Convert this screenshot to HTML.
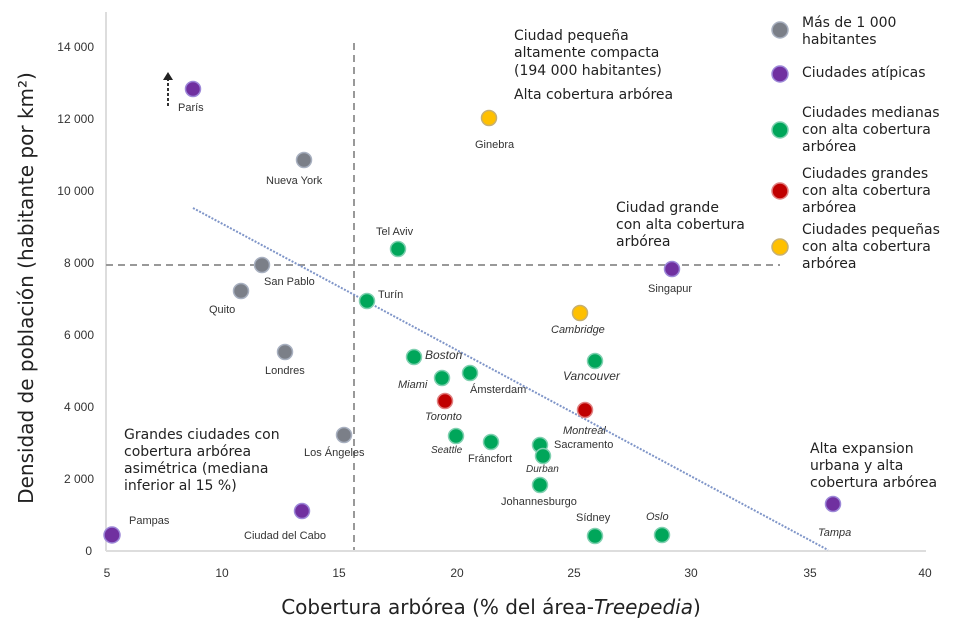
<!DOCTYPE html>
<html><head><meta charset="utf-8"><style>
body{margin:0;background:#fff}
svg{display:block}
.a{font-family:"DejaVu Sans",sans-serif;font-size:14px;fill:#222}
.l{font-family:"Liberation Sans",sans-serif;font-size:11px;fill:#333}
.i{font-style:italic}
.t{font-family:"Liberation Sans",sans-serif;font-size:12px;fill:#333}
</style></head><body>
<svg width="972" height="629" viewBox="0 0 972 629" xmlns="http://www.w3.org/2000/svg">
<line x1="106" y1="12" x2="106" y2="551" stroke="#ddd" stroke-width="2"/>
<line x1="106" y1="551" x2="926" y2="551" stroke="#ddd" stroke-width="2"/>
<g class="t" text-anchor="end">
<text x="94" y="51">14 000</text><text x="94" y="123">12 000</text><text x="94" y="195">10 000</text>
<text x="94" y="267">8 000</text><text x="94" y="339">6 000</text><text x="94" y="411">4 000</text>
<text x="94" y="483">2 000</text><text x="92" y="555">0</text></g>
<g class="t" text-anchor="middle">
<text x="107" y="577">5</text><text x="222" y="577">10</text><text x="339" y="577">15</text><text x="457" y="577">20</text>
<text x="574" y="577">25</text><text x="691" y="577">30</text><text x="810" y="577">35</text><text x="925" y="577">40</text></g>
<text x="491" y="614" text-anchor="middle" font-family="DejaVu Sans,sans-serif" font-size="20" fill="#222">Cobertura arbórea (% del área-<tspan font-style="italic">Treepedia</tspan>)</text>
<text transform="translate(33,288) rotate(-90)" text-anchor="middle" font-family="DejaVu Sans,sans-serif" font-size="20" fill="#222">Densidad de población (habitante por km²)</text>
<line x1="106" y1="265" x2="780" y2="265" stroke="#999" stroke-width="2" stroke-dasharray="7,5"/>
<line x1="354" y1="43" x2="354" y2="550" stroke="#999" stroke-width="2" stroke-dasharray="7,5"/>
<line x1="193" y1="208" x2="828" y2="550" stroke="#7f95c8" stroke-width="2" stroke-dasharray="2,1.5"/>
<line x1="168" y1="106" x2="168" y2="80" stroke="#333" stroke-width="2" stroke-dasharray="3,2"/>
<polygon points="163,80 173,80 168,72" fill="#222"/>
<g stroke-width="1.5">
<g fill="#7b7f88" stroke="#a8b0c0">
<circle cx="304" cy="160" r="7.5"/><circle cx="262" cy="265" r="7.5"/><circle cx="241" cy="291" r="7.5"/>
<circle cx="285" cy="352" r="7.5"/><circle cx="344" cy="435" r="7.5"/><circle cx="780" cy="30" r="8"/></g>
<g fill="#7030a0" stroke="#9d88d8">
<circle cx="193" cy="89" r="7.5"/><circle cx="672" cy="269" r="7.5"/><circle cx="302" cy="511" r="7.5"/>
<circle cx="112" cy="535" r="8"/><circle cx="833" cy="504" r="7.5"/><circle cx="780" cy="74" r="8"/></g>
<g fill="#00a65a" stroke="#7fd0b0">
<circle cx="398" cy="249" r="7.5"/><circle cx="367" cy="301" r="7.5"/><circle cx="414" cy="357" r="7.5"/>
<circle cx="595" cy="361" r="7.5"/><circle cx="442" cy="378" r="7.5"/><circle cx="470" cy="373" r="7.5"/>
<circle cx="456" cy="436" r="7.5"/><circle cx="491" cy="442" r="7.5"/><circle cx="540" cy="445" r="7.5"/>
<circle cx="543" cy="456" r="7.5"/><circle cx="540" cy="485" r="7.5"/><circle cx="595" cy="536" r="7.5"/>
<circle cx="662" cy="535" r="7.5"/><circle cx="780" cy="130" r="8"/></g>
<g fill="#c00000" stroke="#e08080">
<circle cx="445" cy="401" r="7.5"/><circle cx="585" cy="410" r="7.5"/><circle cx="780" cy="191" r="8"/></g>
<g fill="#ffc000" stroke="#c8b070">
<circle cx="489" cy="118" r="7.5"/><circle cx="580" cy="313" r="7.5"/><circle cx="780" cy="247" r="8"/></g>
</g>
<g class="l">
<text x="178" y="111">París</text><text x="475" y="148">Ginebra</text><text x="266" y="184">Nueva York</text>
<text x="376" y="235">Tel Aviv</text><text x="264" y="285">San Pablo</text><text x="209" y="313">Quito</text>
<text x="378" y="298">Turín</text><text x="648" y="292">Singapur</text><text x="551" y="333" class="i">Cambridge</text>
<text x="265" y="374">Londres</text><text x="425" y="359" class="i" font-size="12">Boston</text><text x="563" y="380" class="i" font-size="12">Vancouver</text>
<text x="398" y="388" class="i">Miami</text><text x="470" y="393">Ámsterdam</text><text x="425" y="420" class="i">Toronto</text>
<text x="563" y="434" class="i">Montreal</text><text x="554" y="448">Sacramento</text><text x="526" y="472" class="i" font-size="10">Durban</text>
<text x="304" y="456">Los Ángeles</text><text x="431" y="453" class="i" font-size="10">Seattle</text><text x="468" y="462">Fráncfort</text>
<text x="501" y="505">Johannesburgo</text><text x="576" y="521">Sídney</text><text x="646" y="520" class="i">Oslo</text>
<text x="818" y="536" class="i">Tampa</text><text x="129" y="524">Pampas</text><text x="244" y="539">Ciudad del Cabo</text>
</g>
<g class="a">
<text x="514" y="40">Ciudad pequeña</text><text x="514" y="57">altamente compacta</text><text x="514" y="75">(194 000 habitantes)</text>
<text x="514" y="99">Alta cobertura arbórea</text>
<text x="616" y="212">Ciudad grande</text><text x="616" y="229">con alta cobertura</text><text x="616" y="246">arbórea</text>
<text x="124" y="439">Grandes ciudades con</text><text x="124" y="456">cobertura arbórea</text><text x="124" y="473">asimétrica (mediana</text><text x="124" y="490">inferior al 15 %)</text>
<text x="810" y="453">Alta expansion</text><text x="810" y="470">urbana y alta</text><text x="810" y="487">cobertura arbórea</text>
<text x="802" y="27">Más de 1 000</text><text x="802" y="44">habitantes</text>
<text x="802" y="77">Ciudades atípicas</text>
<text x="802" y="117">Ciudades medianas</text><text x="802" y="134">con alta cobertura</text><text x="802" y="151">arbórea</text>
<text x="802" y="178">Ciudades grandes</text><text x="802" y="195">con alta cobertura</text><text x="802" y="212">arbórea</text>
<text x="802" y="234">Ciudades pequeñas</text><text x="802" y="251">con alta cobertura</text><text x="802" y="268">arbórea</text>
</g>
</svg>
</body></html>
